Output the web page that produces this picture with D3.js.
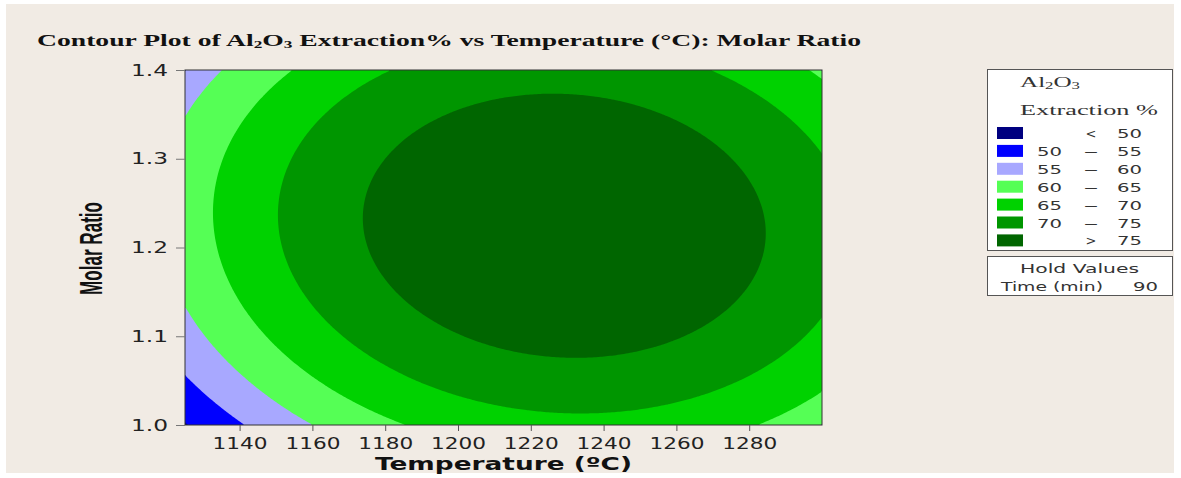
<!DOCTYPE html>
<html>
<head>
<meta charset="utf-8">
<script src="https://cdn.jsdelivr.net/npm/d3@7"></script>
<style>
  body { margin: 0; background: #fff; }
</style>
</head>
<body>
<script>
// axes
const tempDomain = [1125, 1300];
const ratioDomain = [1.0, 1.4];
const tempTicks = [1140, 1160, 1180, 1200, 1220, 1240, 1260, 1280];
const ratioTicks = [1.0, 1.1, 1.2, 1.3, 1.4];

// contour bands (Al2O3 extraction %)
const levels = [50, 55, 60, 65, 70, 75];
const levelColors = ['#000080', '#0000ff', '#a8a8ff', '#55ff55', '#00d200', '#009600', '#006600'];
const legendLow = ['', '50', '55', '60', '65', '70', ''];
const legendSep = ['<', '\u2014', '\u2014', '\u2014', '\u2014', '\u2014', '>'];
const legendHigh = ['50', '55', '60', '65', '70', '75', '75'];

// fitted response surface
const stationary = [1229.2, 1.2245, 79.9];       // temperature, molar ratio, extraction % at optimum
const quadTerms = [-0.0016046, -222.0, -0.068];   // T^2, M^2, T*M (centred on optimum)
const holdTime = 90;

const width = 1181;
const height = 478;

const svg = d3.select('body').append('svg')
    .attr('width', width)
    .attr('height', height);

svg.append('rect')
    .attr('x', 6).attr('y', 4)
    .attr('width', 1168).attr('height', 469)
    .attr('fill', '#f1ebe4');

const plot = { left: 185, top: 70, right: 822, bottom: 425 };

const x = d3.scaleLinear().domain(tempDomain).range([plot.left, plot.right]);
const y = d3.scaleLinear().domain(ratioDomain).range([plot.bottom, plot.top]);

function response(t, m) {
    const u = t - stationary[0];
    const v = m - stationary[1];
    return stationary[2] + quadTerms[0] * u * u + quadTerms[1] * v * v + quadTerms[2] * u * v;
}

// evaluate the surface on a grid and contour it
const nx = 320, ny = 180;
const pw = plot.right - plot.left, ph = plot.bottom - plot.top;
const grid = new Array(nx * ny);
for (let j = 0; j < ny; j++) {
    for (let i = 0; i < nx; i++) {
        const t = x.invert(plot.left + (i + 0.5) * pw / nx);
        const m = y.invert(plot.top + (j + 0.5) * ph / ny);
        grid[j * nx + i] = response(t, m);
    }
}

const contours = d3.contours().size([nx, ny]).thresholds(levels)(grid);

const cg = svg.append('g')
    .attr('transform', `translate(${plot.left},${plot.top}) scale(${pw / nx},${ph / ny})`);

cg.append('rect')
    .attr('width', nx).attr('height', ny)
    .attr('fill', levelColors[0]);

cg.selectAll('path')
    .data(contours)
    .join('path')
    .attr('d', d3.geoPath())
    .attr('fill', (d, i) => levelColors[i + 1]);

svg.append('rect')
    .attr('x', plot.left).attr('y', plot.top)
    .attr('width', pw).attr('height', ph)
    .attr('fill', 'none')
    .attr('stroke', '#333')
    .attr('stroke-width', 1);

function fit(sel, len) {
    sel.attr('textLength', len).attr('lengthAdjust', 'spacingAndGlyphs');
}

// x axis
const xg = svg.append('g')
    .attr('transform', `translate(0,${plot.bottom})`)
    .call(d3.axisBottom(x).tickValues(tempTicks).tickFormat(d3.format('d')).tickSize(6).tickPadding(7));
xg.select('.domain').remove();
xg.selectAll('.tick line').attr('stroke', '#555');
xg.selectAll('.tick text')
    .attr('font-family', 'DejaVu Sans, Verdana, sans-serif')
    .attr('font-size', 15)
    .attr('fill', '#222')
    .call(fit, 55);

// y axis
const yg = svg.append('g')
    .attr('transform', `translate(${plot.left},0)`)
    .call(d3.axisLeft(y).tickValues(ratioTicks).tickFormat(d3.format('.1f')).tickSize(9).tickPadding(8));
yg.select('.domain').remove();
yg.selectAll('.tick line').attr('stroke', '#777');
yg.selectAll('.tick text')
    .attr('font-family', 'DejaVu Sans, Verdana, sans-serif')
    .attr('font-size', 16)
    .attr('fill', '#222')
    .call(fit, 37);

// axis titles
svg.append('text')
    .attr('x', (plot.left + plot.right) / 2).attr('y', 470)
    .attr('text-anchor', 'middle')
    .attr('font-family', 'DejaVu Sans, Verdana, sans-serif')
    .attr('font-weight', 'bold')
    .attr('font-size', 17)
    .attr('fill', '#111')
    .text('Temperature (\u00baC)')
    .call(fit, 257);

svg.append('text')
    .attr('transform', 'translate(102,248.5) rotate(-90)')
    .attr('text-anchor', 'middle')
    .attr('font-family', 'Liberation Sans Narrow, Arial Narrow, Liberation Sans, sans-serif')
    .attr('font-weight', 'bold')
    .attr('font-size', 31)
    .attr('fill', '#111')
    .text('Molar Ratio')
    .call(fit, 93);

// title
const title = svg.append('text')
    .attr('x', 37).attr('y', 46)
    .attr('font-family', 'Liberation Serif, Times New Roman, serif')
    .attr('font-weight', 'bold')
    .attr('font-size', 16)
    .attr('fill', '#111')
    .call(fit, 824);
title.append('tspan').text('Contour Plot of Al');
title.append('tspan').attr('font-size', 10).attr('dy', 2).text('2');
title.append('tspan').attr('dy', -2).text('O');
title.append('tspan').attr('font-size', 10).attr('dy', 2).text('3');
title.append('tspan').attr('dy', -2).text(' Extraction% vs Temperature (\u00b0C): Molar Ratio');

// legend
const lg = svg.append('g');
lg.append('rect')
    .attr('x', 987.5).attr('y', 69.5)
    .attr('width', 185).attr('height', 181)
    .attr('fill', '#fff').attr('stroke', '#555');

const lt = lg.append('text')
    .attr('x', 1020).attr('y', 87)
    .attr('font-family', 'Liberation Serif, Times New Roman, serif')
    .attr('font-size', 15)
    .attr('fill', '#333')
    .call(fit, 60);
lt.append('tspan').text('Al');
lt.append('tspan').attr('font-size', 10).attr('dy', 2).text('2');
lt.append('tspan').attr('dy', -2).text('O');
lt.append('tspan').attr('font-size', 10).attr('dy', 2).text('3');

lg.append('text')
    .attr('x', 1020).attr('y', 115)
    .attr('font-family', 'Liberation Serif, Times New Roman, serif')
    .attr('font-size', 15)
    .attr('fill', '#333')
    .text('Extraction %')
    .call(fit, 138);

const rows = lg.selectAll('g.row')
    .data(levelColors)
    .join('g')
    .attr('class', 'row')
    .attr('transform', (d, i) => `translate(0,${127 + i * 17.9})`);

rows.append('rect')
    .attr('x', 997).attr('y', 0)
    .attr('width', 26).attr('height', 12)
    .attr('fill', d => d);

const rowFont = sel => sel
    .attr('font-family', 'DejaVu Sans, Verdana, sans-serif')
    .attr('font-size', 13)
    .attr('fill', '#333');

rows.filter((d, i) => legendLow[i] !== '')
    .append('text')
    .attr('x', 1037).attr('y', 11)
    .call(rowFont)
    .text(d => legendLow[levelColors.indexOf(d)])
    .call(fit, 25);

rows.append('text')
    .attr('x', 1091).attr('y', 11)
    .attr('text-anchor', 'middle')
    .call(rowFont)
    .text((d, i) => legendSep[i]);

rows.append('text')
    .attr('x', 1117).attr('y', 11)
    .call(rowFont)
    .text((d, i) => legendHigh[i])
    .call(fit, 25);

// hold values box
lg.append('rect')
    .attr('x', 987.5).attr('y', 256.5)
    .attr('width', 185).attr('height', 39)
    .attr('fill', '#fff').attr('stroke', '#555');

lg.append('text')
    .attr('x', 1020).attr('y', 273)
    .call(rowFont)
    .text('Hold Values')
    .call(fit, 119);

lg.append('text')
    .attr('x', 1001).attr('y', 291)
    .call(rowFont)
    .text('Time (min)')
    .call(fit, 102);

lg.append('text')
    .attr('x', 1133).attr('y', 291)
    .call(rowFont)
    .text(holdTime)
    .call(fit, 25);
</script>
</body>
</html>
